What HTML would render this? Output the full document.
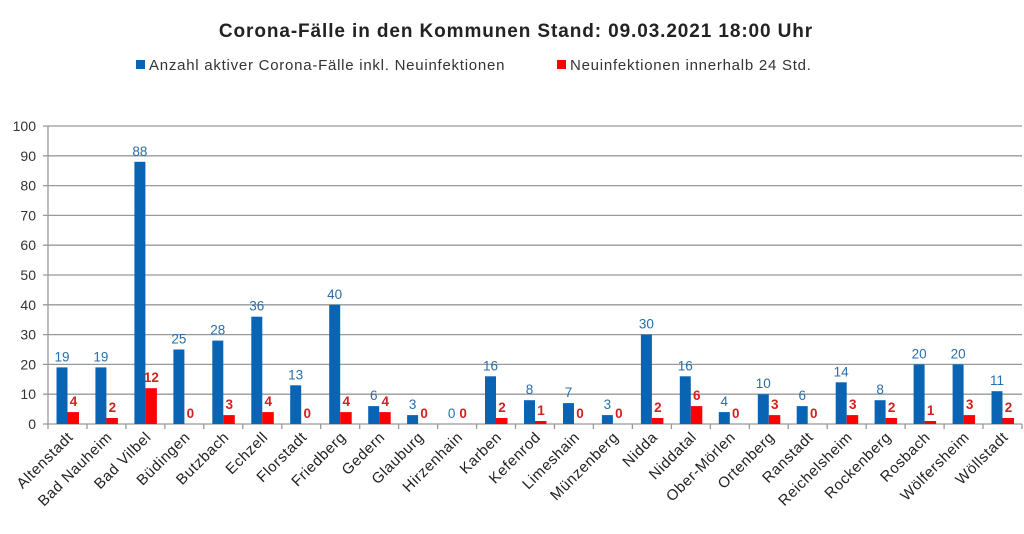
<!DOCTYPE html><html><head><meta charset="utf-8"><style>body{margin:0;background:#fff}svg{display:block;font-family:"Liberation Sans",sans-serif}</style></head><body>
<svg width="1024" height="534" xmlns="http://www.w3.org/2000/svg">
<text x="516" y="37" text-anchor="middle" font-size="19" font-weight="bold" letter-spacing="0.9" fill="#222">Corona-Fälle in den Kommunen Stand: 09.03.2021 18:00 Uhr</text>
<rect x="136" y="60" width="9" height="9" fill="#0a64b4"/><text x="149" y="70" font-size="15" letter-spacing="0.75" fill="#333">Anzahl aktiver Corona-Fälle inkl. Neuinfektionen</text>
<rect x="557" y="60" width="9" height="9" fill="#f00"/><text x="570" y="70" font-size="15" letter-spacing="0.75" fill="#333">Neuinfektionen innerhalb 24 Std.</text>
<g stroke="#999" stroke-width="1.3">
<line x1="43" x2="1022" y1="424" y2="424"/><line x1="43" x2="1022" y1="394.2" y2="394.2"/><line x1="43" x2="1022" y1="364.4" y2="364.4"/><line x1="43" x2="1022" y1="334.6" y2="334.6"/><line x1="43" x2="1022" y1="304.8" y2="304.8"/><line x1="43" x2="1022" y1="275" y2="275"/><line x1="43" x2="1022" y1="245.2" y2="245.2"/><line x1="43" x2="1022" y1="215.4" y2="215.4"/><line x1="43" x2="1022" y1="185.6" y2="185.6"/><line x1="43" x2="1022" y1="155.8" y2="155.8"/><line x1="43" x2="1022" y1="126" y2="126"/>
<line x1="48" x2="48" y1="126" y2="429"/>
<path d="M87 424v5M125.9 424v5M164.9 424v5M203.8 424v5M242.8 424v5M281.8 424v5M320.7 424v5M359.7 424v5M398.6 424v5M437.6 424v5M476.6 424v5M515.5 424v5M554.5 424v5M593.4 424v5M632.4 424v5M671.4 424v5M710.3 424v5M749.3 424v5M788.2 424v5M827.2 424v5M866.2 424v5M905.1 424v5M944.1 424v5M983 424v5M1022 424v5"/>
</g>
<g font-size="14" fill="#333" text-anchor="end">
<text x="36" y="429">0</text><text x="36" y="399.2">10</text><text x="36" y="369.4">20</text><text x="36" y="339.6">30</text><text x="36" y="309.8">40</text><text x="36" y="280">50</text><text x="36" y="250.2">60</text><text x="36" y="220.4">70</text><text x="36" y="190.6">80</text><text x="36" y="160.8">90</text><text x="36" y="131">100</text>
</g>
<g fill="#0a64b4">
<rect x="56.5" y="367.4" width="11" height="56.6"/><rect x="95.4" y="367.4" width="11" height="56.6"/><rect x="134.4" y="161.8" width="11" height="262.2"/><rect x="173.4" y="349.5" width="11" height="74.5"/><rect x="212.3" y="340.6" width="11" height="83.4"/><rect x="251.3" y="316.7" width="11" height="107.3"/><rect x="290.2" y="385.3" width="11" height="38.7"/><rect x="329.2" y="304.8" width="11" height="119.2"/><rect x="368.2" y="406.1" width="11" height="17.9"/><rect x="407.1" y="415.1" width="11" height="8.9"/><rect x="485" y="376.3" width="11" height="47.7"/><rect x="524" y="400.2" width="11" height="23.8"/><rect x="563" y="403.1" width="11" height="20.9"/><rect x="601.9" y="415.1" width="11" height="8.9"/><rect x="640.9" y="334.6" width="11" height="89.4"/><rect x="679.8" y="376.3" width="11" height="47.7"/><rect x="718.8" y="412.1" width="11" height="11.9"/><rect x="757.8" y="394.2" width="11" height="29.8"/><rect x="796.7" y="406.1" width="11" height="17.9"/><rect x="835.7" y="382.3" width="11" height="41.7"/><rect x="874.6" y="400.2" width="11" height="23.8"/><rect x="913.6" y="364.4" width="11" height="59.6"/><rect x="952.6" y="364.4" width="11" height="59.6"/><rect x="991.5" y="391.2" width="11" height="32.8"/>
</g>
<g fill="#f00">
<rect x="67.5" y="412.1" width="11.5" height="11.9"/><rect x="106.4" y="418" width="11.5" height="6"/><rect x="145.4" y="388.2" width="11.5" height="35.8"/><rect x="223.3" y="415.1" width="11.5" height="8.9"/><rect x="262.3" y="412.1" width="11.5" height="11.9"/><rect x="340.2" y="412.1" width="11.5" height="11.9"/><rect x="379.2" y="412.1" width="11.5" height="11.9"/><rect x="496" y="418" width="11.5" height="6"/><rect x="535" y="421" width="11.5" height="3"/><rect x="651.9" y="418" width="11.5" height="6"/><rect x="690.8" y="406.1" width="11.5" height="17.9"/><rect x="768.8" y="415.1" width="11.5" height="8.9"/><rect x="846.7" y="415.1" width="11.5" height="8.9"/><rect x="885.6" y="418" width="11.5" height="6"/><rect x="924.6" y="421" width="11.5" height="3"/><rect x="963.6" y="415.1" width="11.5" height="8.9"/><rect x="1002.5" y="418" width="11.5" height="6"/>
</g>
<g font-size="13.5" fill="#2a6ea8" text-anchor="middle">
<text x="62" y="361.4">19</text><text x="100.9" y="361.4">19</text><text x="139.9" y="155.8">88</text><text x="178.9" y="343.5">25</text><text x="217.8" y="334.6">28</text><text x="256.8" y="310.7">36</text><text x="295.7" y="379.3">13</text><text x="334.7" y="298.8">40</text><text x="373.7" y="400.1">6</text><text x="412.6" y="409.1">3</text><text x="451.6" y="418">0</text><text x="490.5" y="370.3">16</text><text x="529.5" y="394.2">8</text><text x="568.5" y="397.1">7</text><text x="607.4" y="409.1">3</text><text x="646.4" y="328.6">30</text><text x="685.3" y="370.3">16</text><text x="724.3" y="406.1">4</text><text x="763.3" y="388.2">10</text><text x="802.2" y="400.1">6</text><text x="841.2" y="376.3">14</text><text x="880.1" y="394.2">8</text><text x="919.1" y="358.4">20</text><text x="958.1" y="358.4">20</text><text x="997" y="385.2">11</text>
</g>
<g font-size="13.5" font-weight="bold" fill="#d42020" text-anchor="middle">
<text x="73.5" y="406.1">4</text><text x="112.4" y="412">2</text><text x="151.4" y="382.2">12</text><text x="190.4" y="418">0</text><text x="229.3" y="409.1">3</text><text x="268.3" y="406.1">4</text><text x="307.2" y="418">0</text><text x="346.2" y="406.1">4</text><text x="385.2" y="406.1">4</text><text x="424.1" y="418">0</text><text x="463.1" y="418">0</text><text x="502" y="412">2</text><text x="541" y="415">1</text><text x="580" y="418">0</text><text x="618.9" y="418">0</text><text x="657.9" y="412">2</text><text x="696.8" y="400.1">6</text><text x="735.8" y="418">0</text><text x="774.8" y="409.1">3</text><text x="813.7" y="418">0</text><text x="852.7" y="409.1">3</text><text x="891.6" y="412">2</text><text x="930.6" y="415">1</text><text x="969.6" y="409.1">3</text><text x="1008.5" y="412">2</text>
</g>
<g font-size="15" letter-spacing="0.6" fill="#222" text-anchor="end">
<text transform="translate(74,438) rotate(-45)">Altenstadt</text><text transform="translate(112.9,438) rotate(-45)">Bad Nauheim</text><text transform="translate(151.9,438) rotate(-45)">Bad Vilbel</text><text transform="translate(190.9,438) rotate(-45)">Büdingen</text><text transform="translate(229.8,438) rotate(-45)">Butzbach</text><text transform="translate(268.8,438) rotate(-45)">Echzell</text><text transform="translate(307.7,438) rotate(-45)">Florstadt</text><text transform="translate(346.7,438) rotate(-45)">Friedberg</text><text transform="translate(385.7,438) rotate(-45)">Gedern</text><text transform="translate(424.6,438) rotate(-45)">Glauburg</text><text transform="translate(463.6,438) rotate(-45)">Hirzenhain</text><text transform="translate(502.5,438) rotate(-45)">Karben</text><text transform="translate(541.5,438) rotate(-45)">Kefenrod</text><text transform="translate(580.5,438) rotate(-45)">Limeshain</text><text transform="translate(619.4,438) rotate(-45)">Münzenberg</text><text transform="translate(658.4,438) rotate(-45)">Nidda</text><text transform="translate(697.3,438) rotate(-45)">Niddatal</text><text transform="translate(736.3,438) rotate(-45)">Ober-Mörlen</text><text transform="translate(775.3,438) rotate(-45)">Ortenberg</text><text transform="translate(814.2,438) rotate(-45)">Ranstadt</text><text transform="translate(853.2,438) rotate(-45)">Reichelsheim</text><text transform="translate(892.1,438) rotate(-45)">Rockenberg</text><text transform="translate(931.1,438) rotate(-45)">Rosbach</text><text transform="translate(970.1,438) rotate(-45)">Wölfersheim</text><text transform="translate(1009,438) rotate(-45)">Wöllstadt</text>
</g>
</svg></body></html>
